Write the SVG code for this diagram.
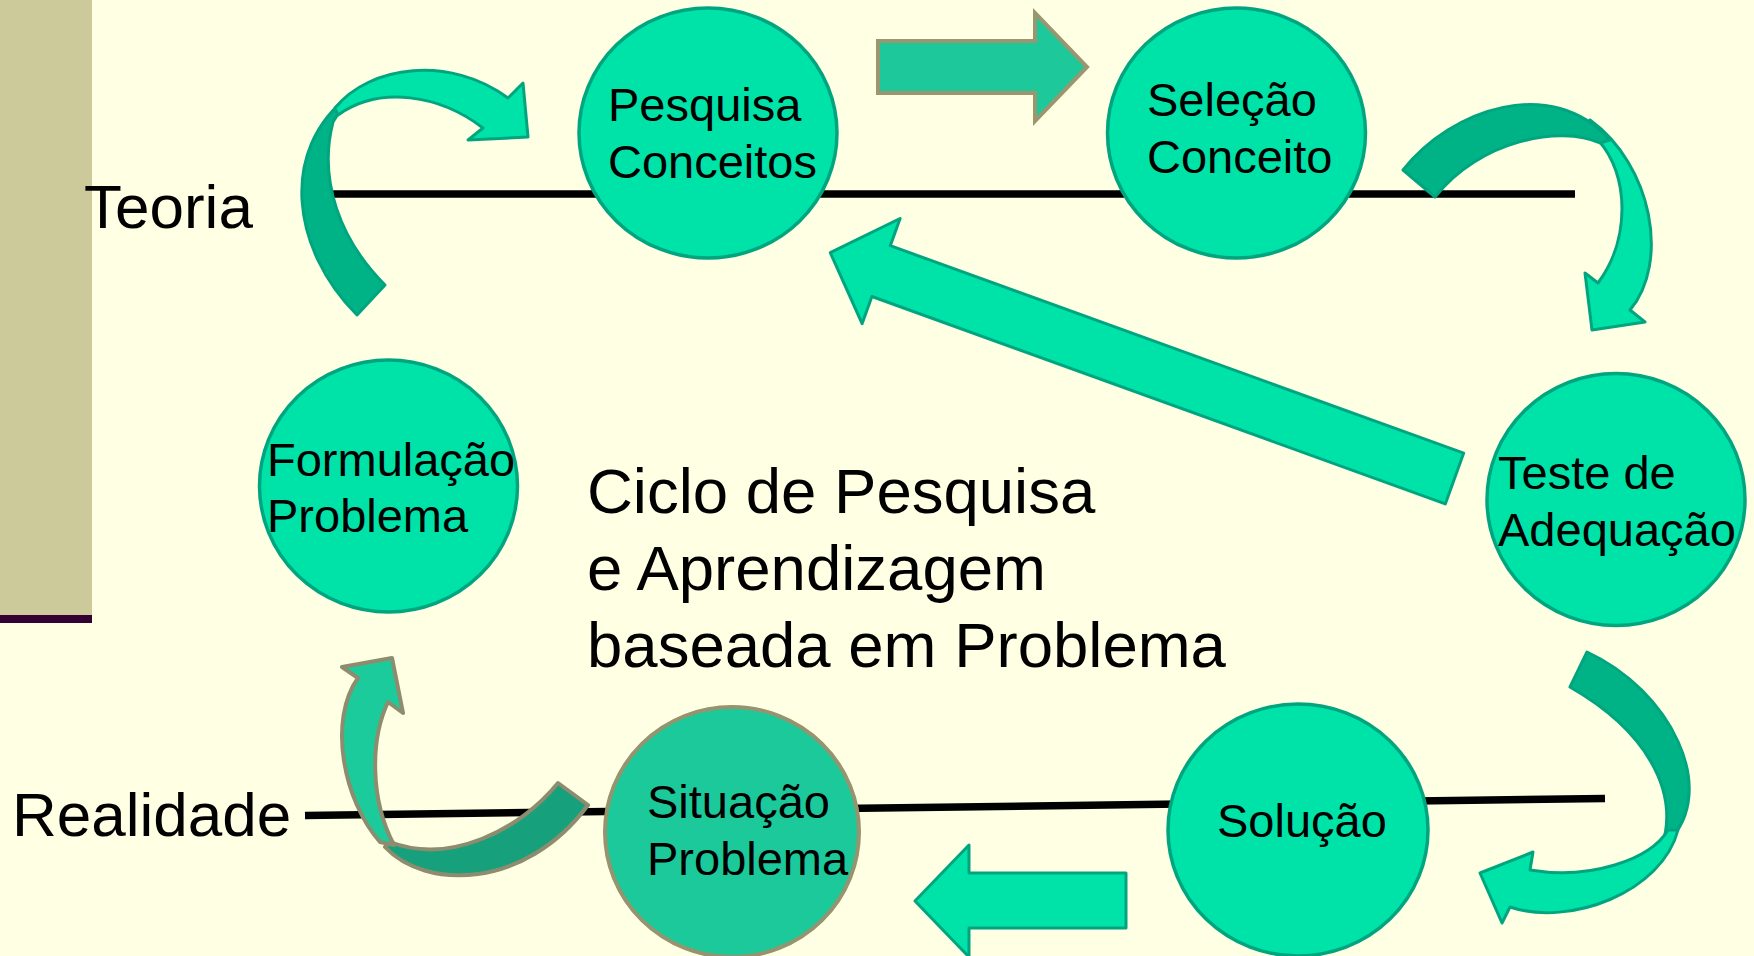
<svg xmlns="http://www.w3.org/2000/svg" width="1754" height="956" viewBox="0 0 1754 956">
<style>
.bg{fill:#FFFFE4}
.axis{stroke:#000;stroke-width:7.5;fill:none}
.lbl{font-family:"Liberation Sans",Arial,sans-serif;fill:#000}
.side{font-size:62px}
.node{font-size:47px}
.title{font-size:63.5px}
.c{fill:#00E3A8;stroke:#00A57F;stroke-width:3.5}
.c2{fill:#1BC99B;stroke:#96946F;stroke-width:4}
.al{fill:#00E3A8;stroke:#00A57F;stroke-width:3;stroke-linejoin:round}
.ad{fill:#00B386;stroke:#00A57F;stroke-width:3;stroke-linejoin:round}
.bl{fill:#1BCB9C;stroke:#8E8C6E;stroke-width:4;stroke-linejoin:round}
.bd{fill:#16A07C;stroke:#8E8C6E;stroke-width:4;stroke-linejoin:round}
.sa{fill:#1DC99B;stroke:#999670;stroke-width:4}
</style>
<rect class="bg" x="0" y="0" width="1754" height="956"/>
<rect x="0" y="0" width="92" height="615" fill="#CCC99A"/>
<rect x="0" y="615" width="92" height="8" fill="#330033"/>

<g id="axes">
<line class="axis" x1="333" y1="194" x2="1575" y2="194"/>
<line class="axis" x1="305" y1="815.5" x2="1605" y2="798.5"/>
<text class="lbl side" x="84" y="228">Teoria</text>
<text class="lbl side" x="12" y="836">Realidade</text>
</g>

<g id="connectors">
<!-- Pesquisa -> Selecao -->
<polygon class="sa" points="878,41 1035,41 1035,13 1087,67 1035,121 1035,93 878,93"/>
<!-- Selecao -> Teste (curved) -->
<path class="al" d="M1590,120 C1652,165 1670,262 1630,310 L1645,322 L1592,330 L1585,273 L1598,283 C1630,240 1630,175 1598,140 Z"/>
<path class="ad" d="M1403,170 C1452,108 1552,75 1610,140 L1600,143 C1560,125 1480,140 1435,197 Z"/>
<!-- Teste -> Pesquisa (diagonal) -->
<polygon class="al" points="1463.7,453.1 890.3,245.7 900.1,218.5 830.3,252.7 862.1,323.7 871.9,296.5 1445.3,503.9"/>
<!-- Teste -> Solucao (curved) -->
<path class="ad" d="M1587,652 C1670,690 1720,790 1668,842 L1662,846 C1680,790 1645,730 1570,687 Z"/>
<path class="al" d="M1678,830 C1662,892 1570,927 1510,907 L1502,923 L1480,873 L1533,852 L1530,870 C1590,880 1650,860 1668,830 Z"/>
<!-- Solucao -> Situacao -->
<polygon class="al" points="1126,873 969,873 969,845 915,901 969,957 969,928 1126,928"/>
<!-- Situacao -> Formulacao (curved) -->
<path class="bd" d="M558,783 C520,830 450,865 390,842 L385,847 C425,890 525,890 588,805 Z"/>
<path class="bl" d="M380,842 C343,800 328,720 358,678 L342,667 L392,658 L403,713 L388,702 C370,740 370,800 394,845 Z"/>
<!-- Formulacao -> Pesquisa (curved) -->
<path class="ad" d="M357,315 C292,250 278,150 350,95 L333,122 C318,180 340,240 385,285 Z"/>
<path class="al" d="M335,108 C370,65 450,55 508,98 L523,83 L528,137 L468,140 L483,128 C440,95 380,85 338,115 Z"/>
</g>

<g id="node-pesquisa">
<ellipse class="c" cx="708" cy="133" rx="129" ry="125"/>
<text class="lbl node" x="608" y="121">Pesquisa</text>
<text class="lbl node" x="608" y="178">Conceitos</text>
</g>
<g id="node-selecao">
<ellipse class="c" cx="1236.5" cy="133" rx="129" ry="125"/>
<text class="lbl node" x="1147" y="116">Seleção</text>
<text class="lbl node" x="1147" y="173">Conceito</text>
</g>
<g id="node-teste">
<ellipse class="c" cx="1616" cy="499.5" rx="129" ry="126"/>
<text class="lbl node" x="1498" y="489">Teste de</text>
<text class="lbl node" x="1498" y="546">Adequação</text>
</g>
<g id="node-formulacao">
<ellipse class="c" cx="388.5" cy="486" rx="129" ry="126"/>
<text class="lbl node" x="267" y="476">Formulação</text>
<text class="lbl node" x="267" y="532">Problema</text>
</g>
<g id="node-situacao">
<ellipse class="c2" cx="732" cy="832" rx="127" ry="125"/>
<text class="lbl node" x="647" y="818">Situação</text>
<text class="lbl node" x="647" y="875">Problema</text>
</g>
<g id="node-solucao">
<ellipse class="c" cx="1298" cy="830" rx="130" ry="126"/>
<text class="lbl node" x="1217" y="837">Solução</text>
</g>

<g id="title">
<text class="lbl title" x="587" y="513">Ciclo de Pesquisa</text>
<text class="lbl title" x="587" y="590">e Aprendizagem</text>
<text class="lbl title" x="587" y="667">baseada em Problema</text>
</g>
</svg>
